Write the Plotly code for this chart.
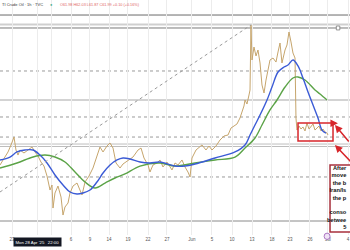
import plotly.graph_objects as go

# ---------------- data (x = trading-day index from Apr 21, y = price $) ----------------
price_x = [0.00, 0.63, 1.26, 1.73, 2.20, 2.51, 2.83, 3.14, 3.77, 4.40, 5.03, 5.50, 5.97, 6.44, 6.91,
           7.39, 7.86, 8.17, 8.33, 8.64, 9.11, 9.59, 9.90, 10.21, 10.69, 11.00, 11.47, 12.10, 12.57,
           12.89, 13.36, 13.99, 14.61, 15.24, 15.71, 16.19, 16.81, 17.29, 17.76, 18.23, 18.86, 19.33,
           19.96, 20.90, 21.69, 22.16, 22.63, 23.26, 23.57, 24.04, 24.67, 25.14, 25.61, 26.24, 27.03,
           27.50, 27.97, 28.60, 29.07, 29.54, 29.86, 30.17, 30.80, 31.74, 32.37, 32.84, 33.31, 33.94,
           34.57, 35.20, 35.83, 36.30, 36.77, 37.24, 37.71, 38.03, 38.34, 38.50, 38.81, 39.13, 39.29,
           39.44, 39.60, 39.91, 40.23, 40.54, 40.86, 41.17, 41.49, 41.80, 42.11, 42.43, 42.90, 43.37,
           43.69, 44.00, 44.31, 44.79, 45.10, 45.41, 45.73, 46.04, 46.36, 46.51, 46.67, 46.99, 47.30,
           47.61, 47.93, 48.24, 48.56, 48.87, 49.19, 49.50, 49.81, 50.13, 50.44, 50.76, 51.07, 51.39,
           51.54]
price_y = [61.19, 62.01, 62.72, 63.54, 64.47, 62.95, 62.36, 62.95, 62.60, 62.95, 63.30, 62.72, 62.25,
           61.54, 61.07, 59.90, 58.26, 58.85, 56.15, 57.91, 58.73, 57.44, 55.33, 56.27, 56.74, 57.91,
           58.73, 59.08, 58.26, 57.68, 59.20, 59.90, 60.84, 62.13, 63.30, 62.72, 63.42, 63.77, 63.18,
           61.43, 60.84, 61.31, 61.66, 62.13, 62.95, 63.18, 62.01, 61.19, 60.37, 61.19, 61.43, 61.78,
           60.96, 61.54, 60.61, 61.43, 61.19, 61.78, 60.96, 60.37, 59.79, 62.01, 62.95, 63.54, 62.95,
           63.42, 62.95, 63.42, 64.12, 64.59, 64.71, 65.53, 65.76, 66.00, 66.70, 67.40, 68.11, 68.81,
           68.34, 69.40, 69.98, 77.60, 73.50, 75.02, 73.97, 74.67, 73.15, 70.57, 69.63, 71.15, 72.33,
           73.50, 73.73, 73.26, 74.44, 75.49, 73.15, 74.67, 75.26, 76.78, 75.61, 74.32, 73.73, 66.70,
           65.29, 65.76, 65.41, 65.65, 65.18, 66.11, 65.41, 65.76, 66.00, 65.29, 65.53, 65.76, 65.18,
           65.41, 65.06, 64.94, 64.71]

ma100_x = [0, 1.57, 2.67, 3.93, 5.19, 6.29, 7.39, 8.64, 9.90, 11.00, 12.10, 13.04, 14.14, 15.24, 16.19,
           17.29, 18.39, 19.33, 20.43, 22.00, 23.57, 25.14, 27.50, 29.07, 30.64, 33.79, 36.93, 38.50,
           39.29, 40.07, 40.86, 41.96, 42.74, 43.69, 44.63, 45.26, 46.04, 46.83, 47.61, 48.40, 49.19,
           49.97, 50.60, 51.23]
ma100_y = [61.78, 62.13, 62.72, 62.95, 62.95, 62.36, 61.43, 60.02, 58.85, 58.03, 57.79, 57.91, 58.26,
           59.20, 60.25, 61.19, 61.78, 62.01, 61.90, 61.54, 61.43, 61.54, 61.07, 61.07, 61.31, 62.01,
           62.72, 63.54, 64.71, 65.88, 67.05, 68.81, 70.33, 72.09, 72.68, 72.91, 73.50, 72.80, 71.39,
           69.75, 68.22, 66.70, 65.29, 64.94]

ma200_x = [0, 2.67, 5.19, 7.07, 8.64, 10.21, 11.79, 13.36, 14.93, 16.50, 18.07, 19.64, 22.00, 25.14,
           27.50, 30.64, 33.79, 36.93, 38.50, 40.07, 41.17, 42.43, 43.53, 44.79, 46.04, 46.83, 47.93,
           49.50, 50.29, 51.39]
ma200_y = [60.84, 61.43, 62.13, 62.36, 62.13, 61.54, 60.37, 59.20, 58.50, 59.08, 59.67, 60.14, 61.07,
           61.43, 61.07, 61.43, 61.78, 62.13, 63.18, 64.36, 65.88, 67.64, 68.81, 70.33, 71.39, 71.51,
           71.15, 69.98, 69.51, 68.81]

tick_vals = [1.89, 5.97, 8.17, 11.16, 14.14, 17.13, 20.11, 23.26, 26.24, 30.17, 33.31, 36.46, 39.60,
             42.74, 45.57, 48.71, 51.54, 54.69]
# the two labels under the crosshair tooltip are hidden by it in the original
tick_text = ["23", "", "", "6", "9", "14", "19", "22", "27", "Jun", "5", "10", "13", "18", "23",
             "26", "Jul", "4"]

# horizontal levels drawn on the chart
level_prices = [78.77, 77.66, 77.25, 72.21, 68.81, 66.82, 64.47, 63.65, 63.36, 59.79, 54.63]
level_colors = ["#6b6b6b", "#cfcfcf", "#7a7a7a", "#9a9a9a", "#a8a8a8", "#9a9a9a", "#9a9a9a",
                "#bdbdbd", "#bdbdbd", "#9a9a9a", "#8a8a8a"]
level_widths = [1, 2.2, 1, 1, 1.2, 1, 1, 1, 1, 1, 1]
level_dash = ["solid", "solid", "solid", "dot", "solid", "dot", "dot", "solid", "solid", "dot", "solid"]

trend_x = [0.0, 39.44]
trend_y = [58.03, 77.60]

box_x = [46.83, 52.33]
box_y = [64.00, 66.11]

# visible part of the callout text (the rest runs off the right edge in the original)
callout_lines = ["After", "move", "the b", "Iran/Is", "the p", "", "conso", "betwee", "5"]

X_RANGE = [0, 55.0]
Y_RANGE = [52.99, 80.53]

fig = go.Figure()
fig.add_trace(go.Scatter(x=price_x, y=price_y, mode="lines",
                         line=dict(color="#c6a56c", width=1), hoverinfo="skip"))
fig.add_trace(go.Scatter(x=ma200_x, y=ma200_y, mode="lines", line_shape="spline",
                         line=dict(color="#5ba347", width=1.4), hoverinfo="skip"))
fig.add_trace(go.Scatter(x=ma100_x, y=ma100_y, mode="lines", line_shape="spline",
                         line=dict(color="#3b5bd6", width=1.4), hoverinfo="skip"))

shapes = []
for p, c, w, d in zip(level_prices, level_colors, level_widths, level_dash):
    shapes.append(dict(type="line", xref="paper", x0=0, x1=1, yref="y", y0=p, y1=p,
                       line=dict(color=c, width=w, dash=d), layer="below"))
shapes.append(dict(type="line", xref="x", yref="y", x0=trend_x[0], y0=trend_y[0],
                   x1=trend_x[1], y1=trend_y[1], line=dict(color="#9a9a9a", width=1, dash="dot")))
shapes.append(dict(type="rect", xref="x", yref="y", x0=box_x[0], x1=box_x[1], y0=box_y[0], y1=box_y[1],
                   line=dict(color="#d7262b", width=1.5)))
# small handle square on the top level line
shapes.append(dict(type="rect", xref="x", yref="y", x0=52.85, x1=53.4, y0=77.02, y1=77.48,
                   fillcolor="white", line=dict(color="#7a7a7a", width=0.8)))
# annotation text box (runs off the right edge)
shapes.append(dict(type="rect", xref="x", yref="y", x0=51.86, x1=62, y0=53.34, y1=61.19,
                   fillcolor="white", line=dict(color="#a8303c", width=1.5)))
# purple event marker on time axis
shapes.append(dict(type="circle", xref="paper", yref="paper", x0=0.926, x1=0.943, y0=-0.019, y1=0.008,
                   fillcolor="#efe3f5", line=dict(color="#9b59b6", width=0.8)))

annotations = [
    dict(xref="paper", yref="paper", x=0.0, y=0.979, xanchor="left", yanchor="middle", showarrow=False,
         text="TI Crude Oil · 1h · TVC", font=dict(size=4, color="#333", family="Liberation Sans")),
    dict(xref="paper", yref="paper", x=51 / 350, y=0.979, xanchor="center", yanchor="middle",
         showarrow=False, text="●", font=dict(size=4, color="#3aa88a")),
    dict(xref="paper", yref="paper", x=58 / 350, y=0.979, xanchor="left", yanchor="middle", showarrow=False,
         text="O61.98 H62.03 L61.87 C61.99 +0.10 (+0.16%)",
         font=dict(size=3.8, color="#e06666", family="Liberation Sans")),
    # crosshair time tooltip
    dict(xref="x", yref="paper", x=5.97, y=-0.028, xanchor="center", yanchor="middle", showarrow=False,
         text="Mon 28 Apr '25   22:00", bgcolor="#131722", borderpad=1.5,
         font=dict(size=4.3, color="white", family="Liberation Sans")),
    # arrows from the text box to the consolidation box
    dict(xref="x", yref="y", axref="x", ayref="y", x=52.64, y=65.88, ax=55.0, ay=63.77,
         showarrow=True, arrowhead=2, arrowsize=1, arrowwidth=1.5, arrowcolor="#d7262b", text=""),
    dict(xref="x", yref="y", axref="x", ayref="y", x=52.64, y=63.54, ax=55.31, ay=61.43,
         showarrow=True, arrowhead=2, arrowsize=1, arrowwidth=1.5, arrowcolor="#d7262b", text=""),
    dict(xref="x", yref="y", axref="x", ayref="y", x=53.1, y=66.08, ax=51.9, ay=66.08,
         showarrow=True, arrowhead=2, arrowsize=1, arrowwidth=1.5, arrowcolor="#d7262b", text=""),
    # text inside the callout box
    dict(xref="paper", yref="y", x=0.998, y=57.35, xanchor="right", yanchor="middle", showarrow=False,
         align="right", text="<b>" + "<br>".join(callout_lines) + "</b>",
         font=dict(size=5.7, color="#111", family="Liberation Sans")),
]

fig.update_layout(
    width=350, height=250,
    margin=dict(l=0, r=0, t=0, b=15),
    paper_bgcolor="white", plot_bgcolor="white",
    showlegend=False,
    shapes=shapes, annotations=annotations,
    xaxis=dict(range=X_RANGE, tickmode="array", tickvals=tick_vals, ticktext=tick_text,
               showgrid=True, gridcolor="#ececec", gridwidth=1, zeroline=False, showline=False,
               ticks="", tickfont=dict(size=4.5, color="#555", family="Liberation Sans"), fixedrange=True),
    yaxis=dict(range=Y_RANGE, showgrid=False, zeroline=False, showticklabels=False, showline=False,
               fixedrange=True),
)

fig.write_html("out.html")
